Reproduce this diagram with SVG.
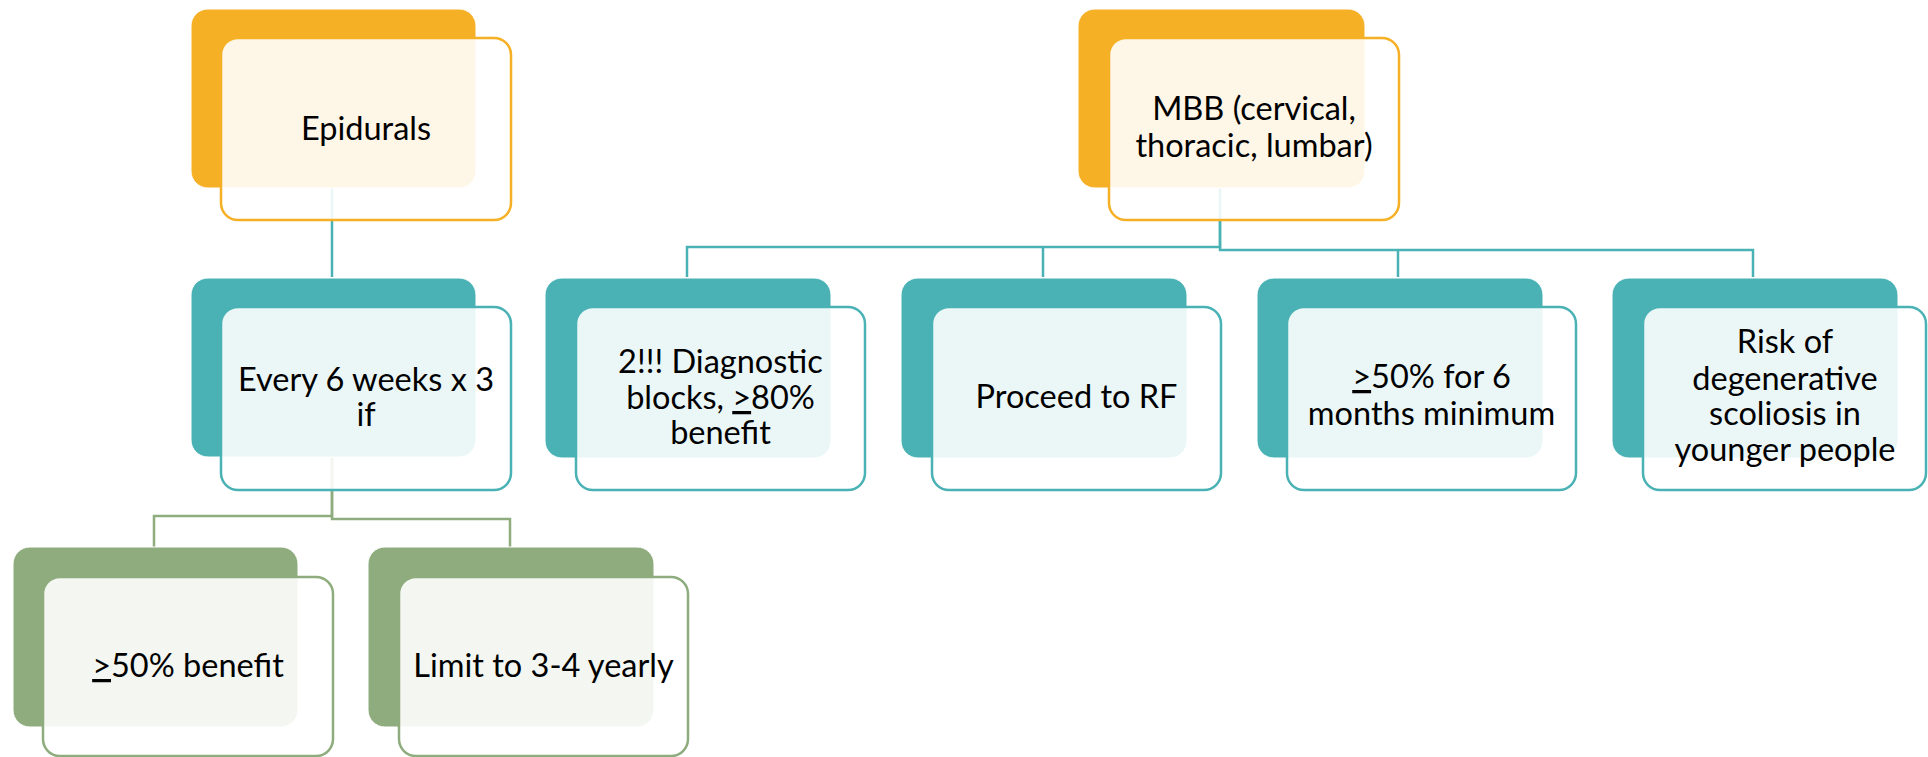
<svg xmlns="http://www.w3.org/2000/svg" width="1928" height="757" viewBox="0 0 1928 757">
<style>
.bg{fill:#ffffff}
.back{stroke:#ffffff;stroke-width:1}
.bo{fill:#F5B026}
.bt{fill:#4AB2B5}
.bgr{fill:#8EAC7E}
.front{fill:#ffffff;fill-opacity:0.89;stroke-width:2.5}
.fo{stroke:#F5B026}
.ft{stroke:#4AB2B5}
.fg{stroke:#8EAC7E}
.lbl{font-family:Lato,"Open Sans","DejaVu Sans",sans-serif;font-size:32.5px;fill:#000000;text-anchor:middle}
.ct{fill:none;stroke:#4AB2B5;stroke-width:2.5}
.cg{fill:none;stroke:#8EAC7E;stroke-width:2.5}
</style>
<rect class="bg" x="0" y="0" width="1928" height="757"/>
<g id="connectors">
<path class="ct" d="M332,188 V277"/>
<path class="ct" d="M1220,188 V247 H687 V277"/>
<path class="ct" d="M1043,247 V277"/>
<path class="ct" d="M1220,188 V250 H1753 V277"/>
<path class="ct" d="M1398,250 V277"/>
<path class="cg" d="M332,457 V516 H154 V547"/>
<path class="cg" d="M332,457 V519 H510 V547"/>
</g>
<g id="epidurals">
<rect class="back bo" x="191" y="9" width="285" height="179" rx="17"/>
<rect class="front fo" x="221" y="38" width="290" height="182" rx="17"/>
<text class="lbl" x="366" y="140">Epidurals</text>
</g>
<g id="every6weeks">
<rect class="back bt" x="191" y="278" width="285" height="179" rx="17"/>
<rect class="front ft" x="221" y="307" width="290" height="183" rx="17"/>
<text class="lbl" x="366" y="391">Every 6 weeks x 3</text>
<text class="lbl" x="366" y="426">if</text>
</g>
<g id="benefit50">
<rect class="back bgr" x="13" y="547" width="285" height="180" rx="17"/>
<rect class="front fg" x="43" y="577" width="290" height="179" rx="17"/>
<text class="lbl" x="188" y="677"><tspan text-decoration="underline">&gt;</tspan>50% benefit</text>
</g>
<g id="limit">
<rect class="back bgr" x="368" y="547" width="286" height="180" rx="17"/>
<rect class="front fg" x="399" y="577" width="289" height="179" rx="17"/>
<text class="lbl" x="543.5" y="677">Limit to 3-4 yearly</text>
</g>
<g id="mbb">
<rect class="back bo" x="1078" y="9" width="287" height="179" rx="17"/>
<rect class="front fo" x="1109" y="38" width="290" height="182" rx="17"/>
<text class="lbl" x="1254" y="120">MBB (cervical,</text>
<text class="lbl" x="1254" y="157">thoracic, lumbar)</text>
</g>
<g id="diagnostic">
<rect class="back bt" x="545" y="278" width="286" height="180" rx="17"/>
<rect class="front ft" x="576" y="307" width="289" height="183" rx="17"/>
<text class="lbl" x="720.5" y="373">2!!! Diagnostic</text>
<text class="lbl" x="720.5" y="409">blocks, <tspan text-decoration="underline">&gt;</tspan>80%</text>
<text class="lbl" x="720.5" y="444">benefit</text>
</g>
<g id="proceed">
<rect class="back bt" x="901" y="278" width="286" height="180" rx="17"/>
<rect class="front ft" x="932" y="307" width="289" height="183" rx="17"/>
<text class="lbl" x="1076.5" y="408">Proceed to RF</text>
</g>
<g id="sixmonths">
<rect class="back bt" x="1257" y="278" width="286" height="180" rx="17"/>
<rect class="front ft" x="1287" y="307" width="289" height="183" rx="17"/>
<text class="lbl" x="1431.5" y="388"><tspan text-decoration="underline">&gt;</tspan>50% for 6</text>
<text class="lbl" x="1431.5" y="425">months minimum</text>
</g>
<g id="scoliosis">
<rect class="back bt" x="1612" y="278" width="286" height="180" rx="17"/>
<rect class="front ft" x="1643" y="307" width="283" height="183" rx="17"/>
<text class="lbl" x="1785" y="353">Risk of</text>
<text class="lbl" x="1785" y="390">degenerative</text>
<text class="lbl" x="1785" y="425">scoliosis in</text>
<text class="lbl" x="1785" y="461">younger people</text>
</g>
</svg>
